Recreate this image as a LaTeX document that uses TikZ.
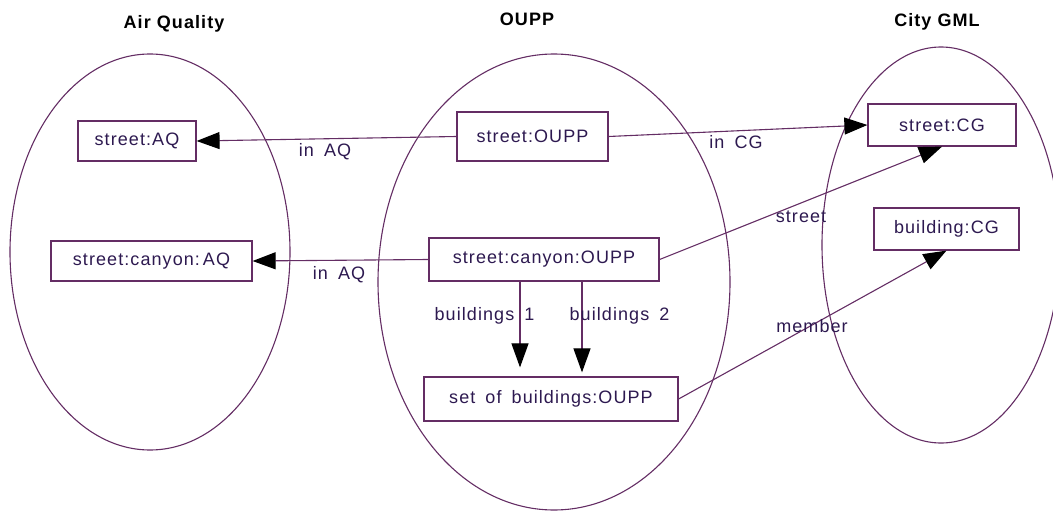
\documentclass[tikz,border=0pt]{standalone}
\usepackage{fontspec}
\setmainfont{Liberation Sans}[LetterSpace=6]
\usetikzlibrary{arrows.meta,calc}
\definecolor{linec}{RGB}{100,45,100}
\definecolor{textc}{RGB}{45,25,80}
\newcommand\wsp{\ \hspace{4pt}}
\begin{document}
\begin{tikzpicture}[x=1pt,y=-1pt,
  txt/.style={text=textc,font=\fontsize{18}{21}\selectfont},
  box/.style={txt,draw=linec,line width=1.2pt,inner sep=0pt},
  lbl/.style={txt,anchor=base,inner sep=0pt},
  ttl/.style={text=black,font=\fontsize{18}{21}\selectfont\bfseries,anchor=base,inner sep=0pt},
  cont/.style={draw=linec,line width=1.1pt},
  conn/.style={draw=linec,line width=1.1pt},
  arr/.style={conn,-{Triangle[length=23pt,width=17pt,fill=black,color=black]}},
  varr/.style={conn,-{Triangle[length=24pt,width=17pt,fill=black,color=black]}},
]
\useasboundingbox (0,0) rectangle (1053,511);
\clip (0,0) rectangle (1053,511);

% containers
\draw[cont] (150,252) ellipse [x radius=140, y radius=198];
\draw[cont] (554,282) ellipse [x radius=176, y radius=228];
\draw[cont] (941,245) ellipse [x radius=119, y radius=198];

% titles
\node[ttl] (tAQ) at (174,29) {Air Quality};
\node[ttl] (tOUPP) at (527,26) {OUPP};
\node[ttl] (tCG) at (937,27) {City GML};

% boxes
\node[box,minimum width=118pt,minimum height=40pt] (saq) at (137,141) {street:AQ};
\node[box,minimum width=201pt,minimum height=40pt] (scaq) at (151.5,261) {street:canyon:\,AQ};
\node[box,minimum width=151pt,minimum height=49pt] (soupp) at (532.5,136.5) {street:OUPP};
\node[box,minimum width=230pt,minimum height=43pt] (scoupp) at (544,259.5) {street:canyon:OUPP};
\node[box,minimum width=254pt,minimum height=44pt] (sob) at (551,399) {set\wsp of\wsp buildings:OUPP};
\node[box,minimum width=148pt,minimum height=42pt] (scg) at (942,125) {street:CG};
\node[box,minimum width=145pt,minimum height=42pt] (bcg) at (946.5,229) {building:CG};

% connectors
\draw[arr] (soupp.west) -- (saq.east);
\draw[arr] (soupp.east) -- (scg.west);
\draw[arr] (scoupp.west) -- (scaq.east);
\draw[arr] (scoupp.east) -- (scg.south);
\draw[arr] (sob.east) -- (bcg.south);
\coordinate (b1s) at ([xshift=-24pt]scoupp.south);
\coordinate (b2s) at ([xshift=38pt]scoupp.south);
\draw[varr] (b1s) -- ($(b1s |- sob.north)+(0,-9)$);
\draw[varr] (b2s) -- ($(b2s |- sob.north)+(0,-4)$);

% labels
\node[lbl] (l1) at (325,156) {in\wsp AQ};
\node[lbl] (l2) at (736,148) {in\wsp CG};
\node[lbl] (l3) at (339,279) {in\wsp AQ};
\node[lbl] (l4) at (801,222) {street};
\node[lbl] (l5) at (812,332) {member};
\node[lbl] (l6) at (484.5,320) {buildings\wsp 1};
\node[lbl] (l7) at (619.5,320) {buildings\wsp 2};
\end{tikzpicture}
\end{document}
